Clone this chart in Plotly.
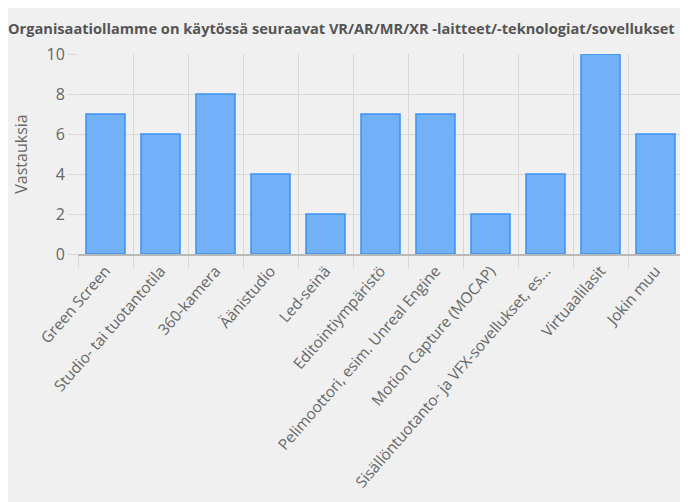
import plotly.graph_objects as go

categories = ["Green Screen", "Studio- tai tuotantotila", "360-kamera", "Äänistudio", "Led-seinä",
              "Editointiympäristö", "Pelimoottori, esim. Unreal Engine", "Motion Capture (MOCAP)",
              "Sisällöntuotanto- ja VFX-sovellukset, es...", "Virtuaalilasit", "Jokin muu"]
values = [7, 6, 8, 4, 2, 7, 7, 2, 4, 10, 6]
title_text = "Organisaatiollamme on käytössä seuraavat VR/AR/MR/XR -laitteet/-teknologiat/sovellukset"
y_title = "Vastauksia"
y_ticks = [0, 2, 4, 6, 8, 10]

fig = go.Figure(go.Bar(
    x=categories, y=values,
    marker=dict(color="#72b1f8", line=dict(color="#3d93f3", width=1.5)),
))

fig.update_layout(
    width=680, height=494,
    paper_bgcolor="#f0f0f0", plot_bgcolor="#f0f0f0",
    margin=dict(l=70, r=5, t=46, b=248),
    bargap=0.29,
    showlegend=False,
    title=dict(text=title_text, x=0.0, xanchor="left", xref="container",
               y=0.957, yanchor="middle",
               font=dict(family="Open Sans, sans-serif", size=14.6, color="#555555", weight="bold")),
    font=dict(family="Open Sans, sans-serif", color="#666666", size=16),
)
fig.update_xaxes(
    tickangle=-49, tickson="boundaries", showgrid=True, gridcolor="#d8d8d8",
    ticks="outside", ticklen=12, tickcolor="#d8d8d8", automargin=False,
    showline=True, linecolor="#b8b8b8", linewidth=2,
    tickfont=dict(size=15.3, color="#666666"),
)
fig.update_yaxes(
    range=[0, 10], tickvals=y_ticks, showgrid=True, gridcolor="#d8d8d8",
    ticks="outside", ticklen=9, tickcolor="#d8d8d8", automargin=False,
    zeroline=False,
    title=dict(text=y_title, font=dict(size=16, color="#666666"), standoff=14),
    tickfont=dict(size=16, color="#666666"),
)

fig.write_html("out.html")
